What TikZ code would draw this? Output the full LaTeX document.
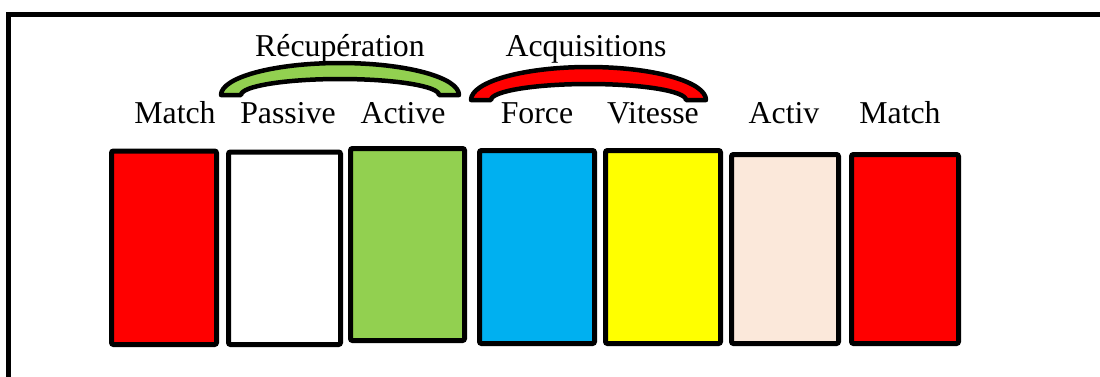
\documentclass[tikz,border=0pt]{standalone}
\usepackage{fontspec}
\setmainfont{Liberation Serif}
\definecolor{cred}{HTML}{FF0000}
\definecolor{cgreen}{HTML}{92D050}
\definecolor{cblue}{HTML}{00B0F0}
\definecolor{cyellow}{HTML}{FFFF00}
\definecolor{cpeach}{HTML}{FBE8DA}
\begin{document}
\begin{tikzpicture}[x=1pt,y=-1pt,
  bar/.style={draw=black, line width=5pt, rounded corners=2pt, inner sep=0pt},
  lbl/.style={anchor=base, inner sep=0pt, font=\fontsize{31.8}{36}\selectfont},
  band/.style={draw=black, line width=4.5pt, line join=round}]
\useasboundingbox (0,0) rectangle (1100,376);
\clip (0,0) rectangle (1100,376);
\draw[line width=5pt] (8.5,14) rectangle (1130,400);

\node[bar, fill=cred,    minimum width=105pt, minimum height=193.5pt] (b1) at (164,247.75) {};
\node[bar, fill=white,   minimum width=112pt, minimum height=192.5pt] (b2) at (284.5,248.25) {};
\node[bar, fill=cgreen,  minimum width=114pt, minimum height=192pt] (b3) at (407.5,244.5) {};
\node[bar, fill=cblue,   minimum width=115pt, minimum height=193pt] (b4) at (537,247) {};
\node[bar, fill=cyellow, minimum width=115pt, minimum height=193pt] (b5) at (663,247) {};
\node[bar, fill=cpeach,  minimum width=107pt, minimum height=189pt] (b6) at (785,249) {};
\node[bar, fill=cred,    minimum width=107pt, minimum height=189pt] (b7) at (905,249) {};

\node[lbl] (l1) at (175,123) {Match};
\node[lbl] (l2) at (288,123) {Passive};
\node[lbl] (l3) at (403,123) {Active};
\node[lbl] (l4) at (537,123) {Force};
\node[lbl] (l5) at (653,123) {Vitesse};
\node[lbl] (l6) at (784,123) {Activ};
\node[lbl] (l7) at (900,123) {Match};

\node[lbl] (g1) at (340,56.5) {Récupération};
\node[lbl] (g2) at (586,56.5) {Acquisitions};

\draw[band, fill=cgreen] (221,95) arc[start angle=180, end angle=360, x radius=119, y radius=32]
  -- (439,95) arc[start angle=0, end angle=-180, x radius=99, y radius=16] -- cycle;
\draw[band, fill=cred] (471,100) arc[start angle=180, end angle=360, x radius=117.5, y radius=33]
  -- (686,100) arc[start angle=0, end angle=-180, x radius=97.5, y radius=16] -- cycle;
\end{tikzpicture}
\end{document}
